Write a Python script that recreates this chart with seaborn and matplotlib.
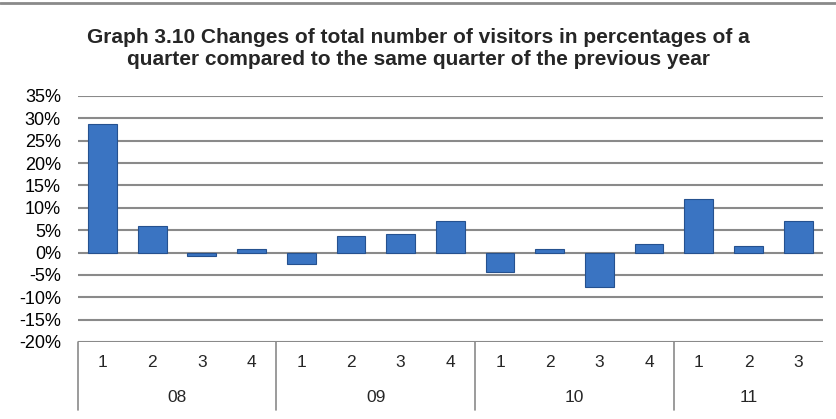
import matplotlib
matplotlib.use("Agg")
import matplotlib.pyplot as plt
import matplotlib.transforms as mtransforms
import seaborn as sns
import pandas as pd

years = ["08", "09", "10", "11"]
quarters = [["1", "2", "3", "4"], ["1", "2", "3", "4"], ["1", "2", "3", "4"], ["1", "2", "3"]]
values = [28.8, 6.0, -0.7, 0.7, -2.5, 3.6, 4.1, 7.0, -4.3, 0.8, -7.7, 1.9, 12.0, 1.5, 7.0]
yticks = [-20, -15, -10, -5, 0, 5, 10, 15, 20, 25, 30, 35]
title = ("Graph 3.10 Changes of total number of visitors in percentages of a\n"
         "quarter compared to the same quarter of the previous year")

cats = []
qlabels = []
for y, qs in zip(years, quarters):
    for q in qs:
        cats.append(f"{y}-{q}")
        qlabels.append(q)
df = pd.DataFrame({"cat": cats, "value": values})

sns.set_theme(style="white")
plt.rcParams["font.family"] = ["Liberation Sans", "DejaVu Sans"]

fig = plt.figure(figsize=(8.37, 4.19), dpi=100)
ax = fig.add_axes([0.0927, 0.1838, 0.8906, 0.5872])

sns.barplot(data=df, x="cat", y="value", order=cats, color="#3a74c2",
            width=0.58, edgecolor="#25518f", linewidth=0.8, saturation=1, ax=ax)

ax.set_ylim(-20, 35)
ax.set_xlim(-0.5, len(cats) - 0.5)
ax.set_yticks(yticks)
ax.set_yticklabels([f"{t}%" for t in yticks], fontsize=13, color="#000000")
ax.tick_params(axis="y", length=0, pad=12)
ax.set_xticks([])
ax.set_xlabel("")
ax.set_ylabel("")
for s in ax.spines.values():
    s.set_visible(False)
ax.grid(False)
for t in yticks:
    ax.axhline(t, color="#8a8a8a", linewidth=1.5, zorder=0)

# multi-level category axis
trans = mtransforms.blended_transform_factory(ax.transData, ax.transAxes)
h = 246.0
qy = -(363 - 342) / h
yy = -(398 - 342) / h
ylow = -(410 - 342) / h
for i, q in enumerate(qlabels):
    ax.text(i, qy, q, transform=trans, ha="center", va="center", fontsize=12.5)
start = 0
for y, qs in zip(years, quarters):
    n = len(qs)
    ax.text(start + (n - 1) / 2, yy, y, transform=trans, ha="center", va="center", fontsize=12.5)
    ax.plot([start - 0.5, start - 0.5], [0, ylow], transform=trans, color="#8a8a8a",
            linewidth=1.2, clip_on=False)
    start += n

fig.text(0.5, 0.884, title, ha="center", va="center", fontsize=15, fontweight="bold",
         linespacing=1.2)
fig.add_artist(plt.Line2D([0, 1], [1 - 3.5 / 419, 1 - 3.5 / 419], color="#8a8a8a",
                          linewidth=2, transform=fig.transFigure))

fig.savefig("out.png", dpi=100)
